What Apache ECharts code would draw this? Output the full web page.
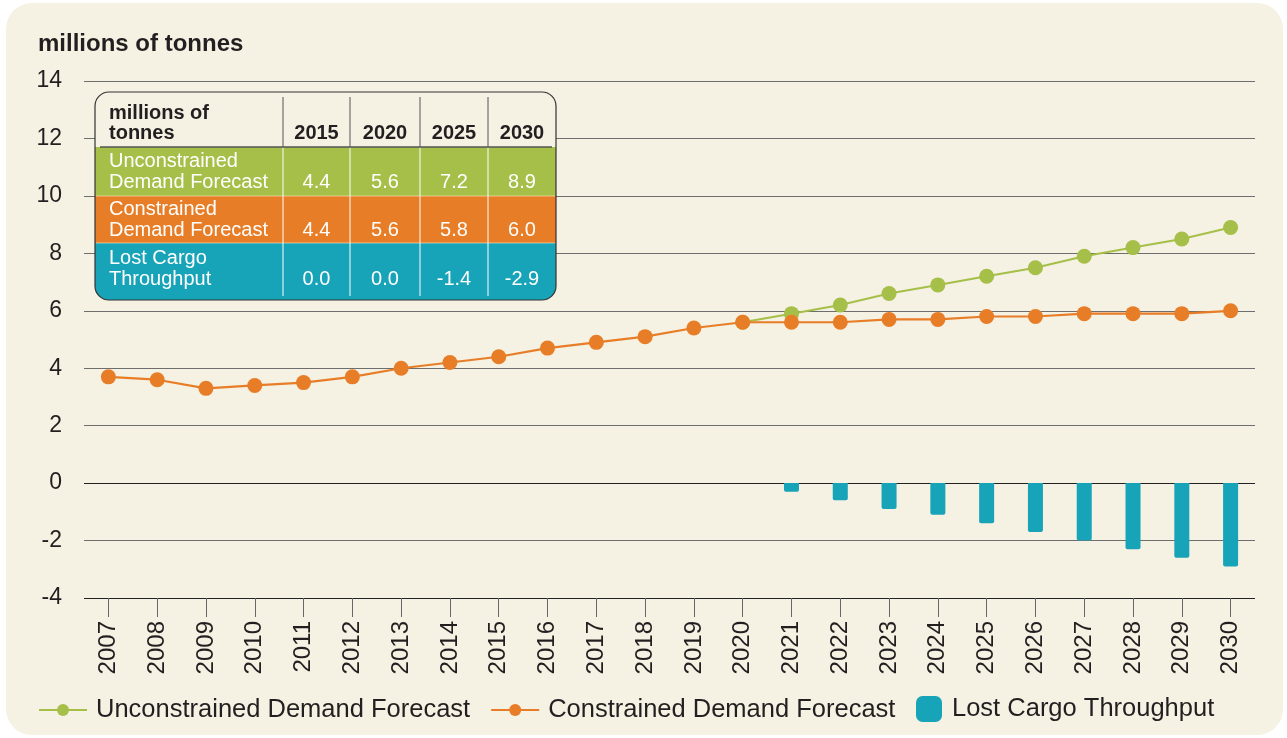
<!DOCTYPE html>
<html>
<head>
<meta charset="utf-8">
<script src="https://cdn.jsdelivr.net/npm/echarts@6/dist/echarts.min.js"></script>
<style>
	html, body { margin: 0; padding: 0; background: #ffffff; }
	#panel { position: absolute; left: 6px; top: 3px; width: 1277px; height: 732px; background: #f5f1e3; border-radius: 26px; }
	#chart { position: absolute; left: 0; top: 0; width: 1287px; height: 738px; }
</style>
</head>
<body>
<div id="panel"></div>
<div id="chart"></div>
<script>
var years = ['2007','2008','2009','2010','2011','2012','2013','2014','2015','2016','2017','2018',
	'2019','2020','2021','2022','2023','2024','2025','2026','2027','2028','2029','2030'];
var unconstrained = [null,null,null,null,null,null,null,null,null,null,null,null,
	null,5.6,5.9,6.2,6.6,6.9,7.2,7.5,7.9,8.2,8.5,8.9];
var constrained = [3.7,3.6,3.3,3.4,3.5,3.7,4.0,4.2,4.4,4.7,4.9,5.1,
	5.4,5.6,5.6,5.6,5.7,5.7,5.8,5.8,5.9,5.9,5.9,6.0];
var lostCargo = [null,null,null,null,null,null,null,null,null,null,null,null,
	null,null,-0.3,-0.6,-0.9,-1.1,-1.4,-1.7,-2.0,-2.3,-2.6,-2.9];

// inset table
var tableYears = ['2015','2020','2025','2030'];
var tableRows = ['Unconstrained\nDemand Forecast','Constrained\nDemand Forecast','Lost Cargo\nThroughput'];
var tableValues = [
	['4.4','5.6','7.2','8.9'],
	['4.4','5.6','5.8','6.0'],
	['0.0','0.0','-1.4','-2.9']
];

var GREEN = '#a5bf48', ORANGE = '#e87d27', TEAL = '#17a3b8';
var FONT = '"Liberation Sans", Arial, sans-serif';

function buildTable() {
	var x0 = 95, x1 = 556, y0 = 92, yHead = 147;
	var rowY = [147, 196, 243, 300];
	var textMid = [172, 220, 269];
	var rowColors = [GREEN, ORANGE, TEAL];
	var colX = [283, 350, 420, 488, 556];
	var shapes = [], texts = [];
	shapes.push({ type: 'rect', shape: { x: x0, y: y0, width: x1 - x0, height: rowY[3] - y0, r: 14 },
		style: { fill: '#f5f1e3' } });
	for (var i = 0; i < tableRows.length; i++) {
		shapes.push({ type: 'rect',
			shape: { x: x0, y: rowY[i], width: x1 - x0, height: rowY[i + 1] - rowY[i], r: i == 2 ? [0, 0, 14, 14] : 0 },
			style: { fill: rowColors[i] } });
		texts.push({ type: 'text', style: { text: tableRows[i], x: 109, y: textMid[i], fill: '#ffffff',
			font: '20px ' + FONT, lineHeight: 21, verticalAlign: 'middle', align: 'left' } });
		for (var j = 0; j < tableYears.length; j++) {
			texts.push({ type: 'text', style: { text: tableValues[i][j], x: (colX[j] + colX[j + 1]) / 2, y: textMid[i] + 10.5,
				fill: '#ffffff', font: '20px ' + FONT, verticalAlign: 'middle', align: 'center' } });
		}
	}
	for (var i = 1; i < tableRows.length; i++) {
		shapes.push({ type: 'line', shape: { x1: x0 + 1, y1: rowY[i], x2: x1 - 1, y2: rowY[i] },
			style: { stroke: 'rgba(255,236,200,0.6)', lineWidth: 1 } });
	}
	// header
	texts.push({ type: 'text', style: { text: 'millions of\ntonnes', x: 109, y: 123, fill: '#231f20',
		font: 'bold 20px ' + FONT, lineHeight: 20, verticalAlign: 'middle', align: 'left' } });
	for (var j = 0; j < tableYears.length; j++) {
		texts.push({ type: 'text', style: { text: tableYears[j], x: (colX[j] + colX[j + 1]) / 2, y: 133,
			fill: '#231f20', font: 'bold 20px ' + FONT, verticalAlign: 'middle', align: 'center' } });
		shapes.push({ type: 'line', shape: { x1: colX[j], y1: 97, x2: colX[j], y2: yHead },
			style: { stroke: '#555555', lineWidth: 1 } });
		shapes.push({ type: 'line', shape: { x1: colX[j], y1: yHead, x2: colX[j], y2: 296 },
			style: { stroke: '#ffffff', lineWidth: 1 } });
	}
	shapes.push({ type: 'line', shape: { x1: 100, y1: yHead, x2: 552, y2: yHead },
		style: { stroke: '#555555', lineWidth: 1.5 } });
	shapes.push({ type: 'rect', shape: { x: x0, y: y0, width: x1 - x0, height: rowY[3] - y0, r: 14 },
		style: { fill: null, stroke: '#333333', lineWidth: 1.2 } });
	// keep the table above the grid lines
	var els = shapes.concat(texts);
	for (var k = 0; k < els.length; k++) {
		els[k].z = 100;
		els[k].z2 = k;
	}
	return els;
}

var dom = document.getElementById('chart');
var myChart = echarts.init(dom);
var option = {
	backgroundColor: 'transparent',
	animation: false,
	textStyle: { fontFamily: FONT },
	title: {
		text: 'millions of tonnes',
		left: 38,
		top: 32,
		padding: 0,
		textStyle: { color: '#231f20', fontSize: 24, fontWeight: 'bold', fontFamily: FONT }
	},
	legend: [{
		left: 38,
		top: 697,
		padding: 0,
		itemWidth: 48,
		itemHeight: 15,
		itemGap: 20,
		textStyle: { color: '#231f20', fontSize: 25.5, fontFamily: FONT, padding: [0, 0, 0, 4] },
		data: ['Unconstrained Demand Forecast', 'Constrained Demand Forecast']
	}, {
		left: 916,
		top: 696,
		padding: 0,
		itemWidth: 26,
		itemHeight: 26,
		textStyle: { color: '#231f20', fontSize: 25.5, fontFamily: FONT, padding: [0, 0, 0, 5] },
		data: [{ name: 'Lost Cargo Throughput', icon: 'roundRect' }]
	}],
	grid: { left: 84, right: 32, top: 81, bottom: 140, containLabel: false },
	xAxis: [{
		type: 'category',
		data: years,
		axisLine: { show: false, onZero: false },
		axisTick: { show: true, alignWithLabel: true, length: 19, lineStyle: { color: '#666666' } },
		axisLabel: { rotate: 90, margin: 23, color: '#231f20', fontSize: 24, fontFamily: FONT }
	}],
	yAxis: [{
		type: 'value',
		min: -4,
		max: 14,
		interval: 2,
		axisLine: { show: false },
		axisTick: { show: false },
		axisLabel: { color: '#231f20', fontSize: 23, margin: 22, fontFamily: FONT },
		splitLine: { lineStyle: { color: ['#222222','#6e6e6e','#222222','#6e6e6e','#6e6e6e','#6e6e6e','#6e6e6e','#6e6e6e','#6e6e6e','#6e6e6e'], width: 1.2 } }
	}],
	series: [{
		name: 'Unconstrained Demand Forecast',
		type: 'line',
		data: unconstrained,
		color: GREEN,
		symbol: 'circle',
		symbolSize: 15,
		lineStyle: { width: 2 },
		z: 3
	}, {
		name: 'Constrained Demand Forecast',
		type: 'line',
		data: constrained,
		color: ORANGE,
		symbol: 'circle',
		symbolSize: 15,
		lineStyle: { width: 2.2 },
		z: 4
	}, {
		name: 'Lost Cargo Throughput',
		type: 'bar',
		data: lostCargo,
		color: TEAL,
		barWidth: 15,
		itemStyle: { borderRadius: [0, 0, 2, 2] },
		z: 2
	}],
	graphic: buildTable()
};
myChart.setOption(option, true);
</script>
</body>
</html>
